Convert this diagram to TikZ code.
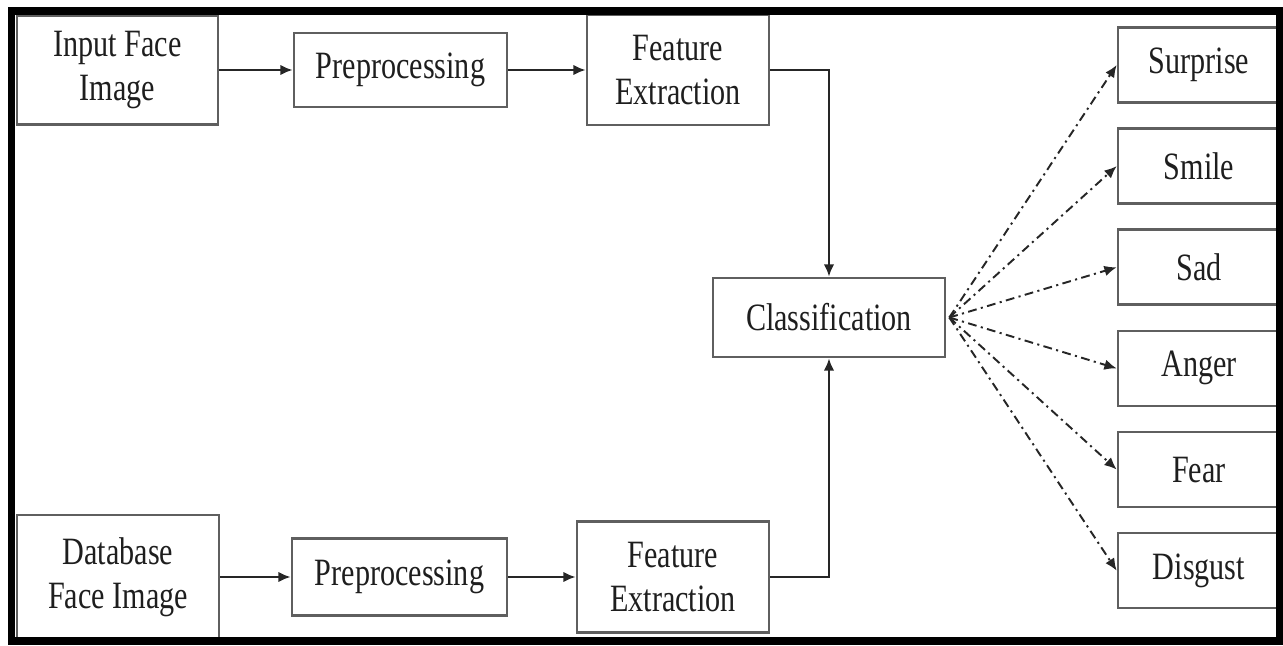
\documentclass[tikz,border=0pt]{standalone}
\usepackage{fontspec}
\setmainfont{Liberation Serif}[FakeStretch=0.78]
\usepackage{tikz}
\usetikzlibrary{arrows.meta, positioning, calc}
\definecolor{boxline}{RGB}{95, 95, 95}
\definecolor{textgray}{RGB}{30, 30, 30}
\tikzset{
  stagebox/.style={
    rectangle, draw=boxline, fill=white,
    line width=1.5pt, align=center, text=textgray,
    font=\fontsize{22}{25}\selectfont, inner sep=2pt
  },
  emotionbox/.style={
    stagebox, minimum width=3.24cm, minimum height=1.5cm
  },
  arrow/.style={-{Latex[length=7pt,width=6pt]}, line width=1.3pt, draw=black!85},
  dasharrow/.style={-{Latex[length=7pt,width=6pt]}, line width=1.1pt, draw=black!85,
    dash pattern=on 5pt off 2.5pt on 1.2pt off 2.5pt}
}
\begin{document}
\begin{tikzpicture}

  \useasboundingbox (0,0) rectangle (25.66,12.9);

  %% ---- Upper row: input image ----
  \node[stagebox, minimum width=4.02cm, minimum height=2.18cm] (inimg) at (2.35,11.5)
    {Input Face\\Image};
  \node[stagebox, minimum width=4.26cm, minimum height=1.48cm] (prepin) at (8.01,11.5)
    {Preprocessing};
  \node[stagebox, minimum width=3.64cm, minimum height=2.2cm] (featin) at (13.56,11.5)
    {Feature\\Extraction};

  %% ---- Lower row: database image ----
  \node[stagebox, minimum width=4.04cm, minimum height=2.48cm] (dbimg) at (2.36,1.36)
    {Database\\Face Image};
  \node[stagebox, minimum width=4.3cm, minimum height=1.54cm] (prepdb) at (7.99,1.36)
    {Preprocessing};
  \node[stagebox, minimum width=3.84cm, minimum height=2.22cm] (featdb) at (13.46,1.36)
    {Feature\\Extraction};

  %% ---- Classifier in the middle ----
  \node[stagebox, minimum width=4.64cm, minimum height=1.58cm] (classify) at (16.58,6.55)
    {Classification};

  %% ---- Emotion classes, stacked on the right ----
  \node[emotionbox] (surprise) at (23.98,11.6) {Surprise};
  \node[emotionbox, below=0.47cm of surprise] (smile) {Smile};
  \node[emotionbox, below=0.47cm of smile] (sad) {Sad};
  \node[emotionbox, below=0.47cm of sad] (anger) {Anger};
  \node[emotionbox, below=0.47cm of anger] (fear) {Fear};
  \node[emotionbox, below=0.47cm of fear] (disgust) {Disgust};

  %% ---- Main flow ----
  \draw[arrow] (inimg) -- (prepin);
  \draw[arrow] (prepin) -- (featin);
  \draw[arrow] (dbimg) -- (prepdb);
  \draw[arrow] (prepdb) -- (featdb);
  \draw[arrow] (featin.east) -| (classify.north);
  \draw[arrow] (featdb.east) -| (classify.south);

  %% ---- Classifier fans out to the classes ----
  \coordinate (fanout) at ($(classify.east) + (0.06,0)$);
  \draw[dasharrow] (fanout) -- (surprise.west);
  \draw[dasharrow] (fanout) -- (smile.west);
  \draw[dasharrow] (fanout) -- (sad.west);
  \draw[dasharrow] (fanout) -- (anger.west);
  \draw[dasharrow] (fanout) -- (fear.west);
  \draw[dasharrow] (fanout) -- (disgust.west);

  %% ---- Outer frame ----
  \draw[line width=4pt] (0.23,0.08) rectangle (25.58,12.68);

\end{tikzpicture}
\end{document}
